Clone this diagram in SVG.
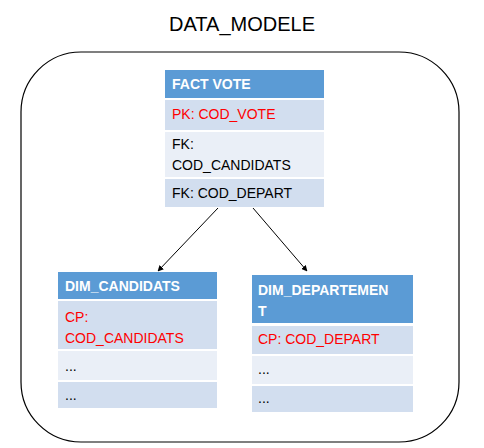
<svg xmlns="http://www.w3.org/2000/svg" width="484" height="448" viewBox="0 0 484 448">
<defs>
<style>
text{font-family:"Liberation Sans",Arial,sans-serif;font-size:14px;fill:#000}
.h{fill:#5B9BD5}
.d{fill:#D2DEEF}
.l{fill:#EAEFF7}
.ht{fill:#fff;font-weight:bold}
.r{fill:#FF0000}
.c{stroke:#000;stroke-width:1;fill:none;marker-end:url(#arr)}
</style>
<marker id="arr" viewBox="0 0 10 10" refX="9" refY="5" markerWidth="6" markerHeight="6" orient="auto" markerUnits="userSpaceOnUse">
<path d="M0,0 L10,5 L0,10 z" fill="#000"/>
</marker>
</defs>
<rect width="484" height="448" fill="#fff"/>
<text x="242" y="31" text-anchor="middle" style="font-size:20px">DATA_MODELE</text>
<rect id="frame" x="21" y="52" width="438" height="390" rx="60" ry="60" fill="none" stroke="#000" stroke-width="1.2"/>
<g id="fact_vote">
<rect class="h" x="165" y="70" width="159" height="28"/>
<rect class="d" x="165" y="100" width="159" height="30"/>
<rect class="l" x="165" y="132" width="159" height="45"/>
<rect class="d" x="165" y="179" width="159" height="28"/>
<text class="ht" x="172" y="89">FACT VOTE</text>
<text class="r" x="172" y="119">PK: COD_VOTE</text>
<text x="172" y="149">FK:</text>
<text x="172" y="170">COD_CANDIDATS</text>
<text x="172" y="198">FK: COD_DEPART</text>
</g>
<g id="dim_candidats">
<rect class="h" x="58" y="272" width="159" height="27"/>
<rect class="d" x="58" y="301" width="159" height="48"/>
<rect class="l" x="58" y="351" width="159" height="29"/>
<rect class="d" x="58" y="382" width="159" height="26"/>
<text class="ht" x="65" y="291">DIM_CANDIDATS</text>
<text class="r" x="65" y="322">CP:</text>
<text class="r" x="65" y="343">COD_CANDIDATS</text>
<text x="65" y="371">...</text>
<text x="65" y="400">...</text>
</g>
<g id="dim_departement">
<rect class="h" x="252" y="275" width="161" height="48"/>
<rect class="d" x="252" y="326" width="161" height="28"/>
<rect class="l" x="252" y="356" width="161" height="28"/>
<rect class="d" x="252" y="386" width="161" height="26"/>
<text class="ht" x="258" y="295">DIM_DEPARTEMEN</text>
<text class="ht" x="258" y="316">T</text>
<text class="r" x="258" y="344">CP: COD_DEPART</text>
<text x="258" y="374">...</text>
<text x="258" y="403">...</text>
</g>
<g id="connectors">
<line class="c" x1="218" y1="208" x2="158" y2="271"/>
<line class="c" x1="253" y1="208" x2="307" y2="271"/>
</g>
</svg>
